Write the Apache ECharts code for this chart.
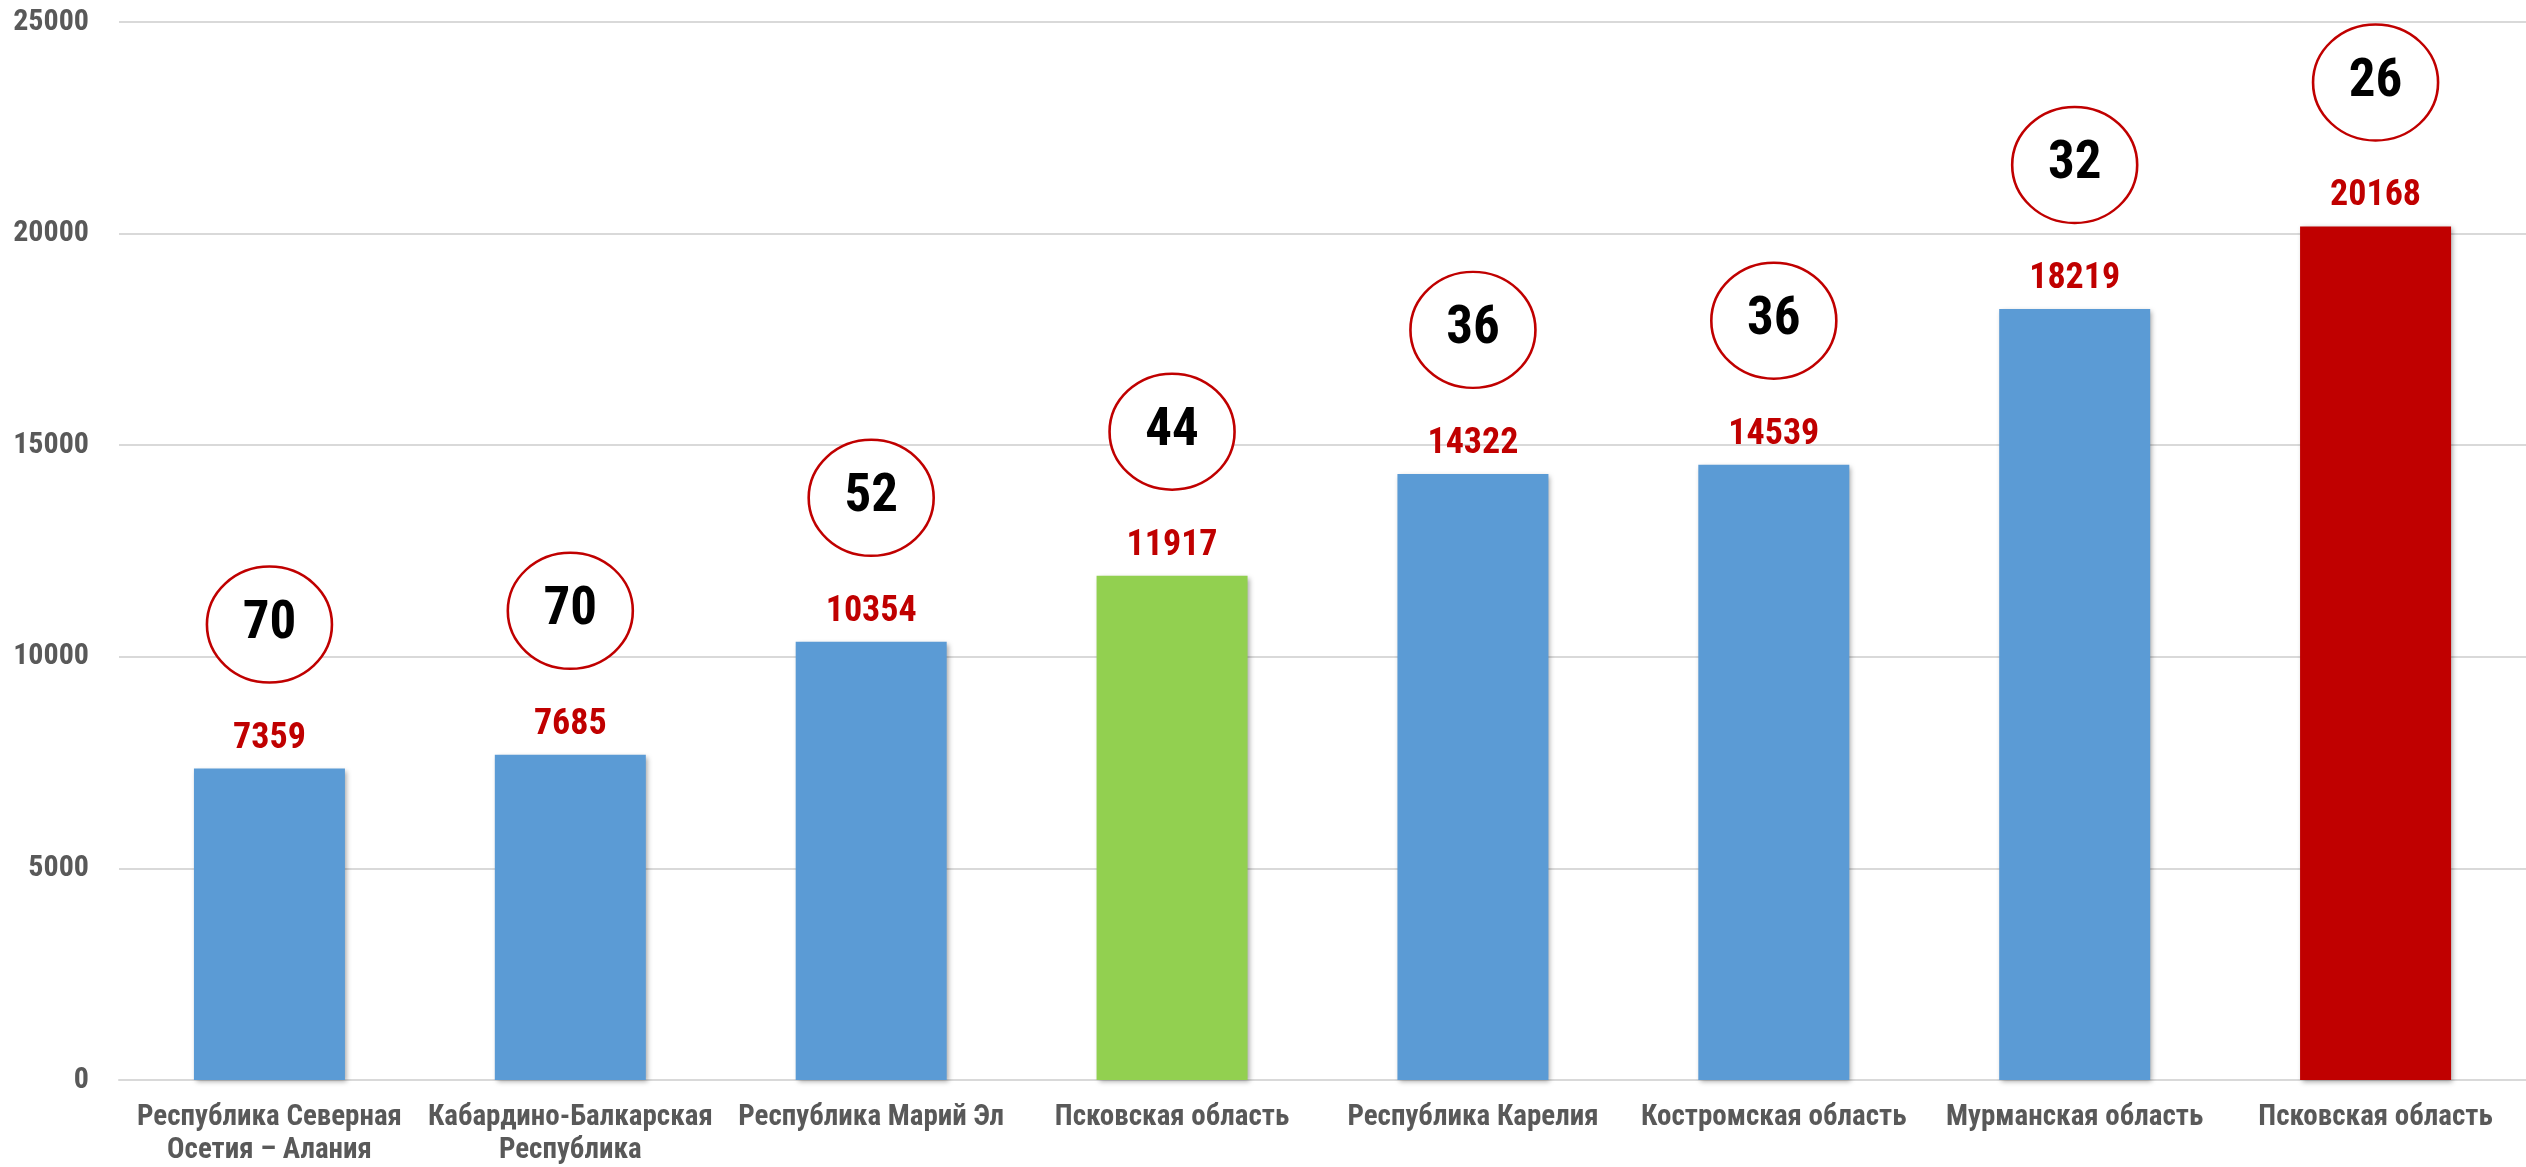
<!DOCTYPE html>
<html>
<head>
<meta charset="utf-8">
<script src="https://cdn.jsdelivr.net/npm/echarts@6/dist/echarts.min.js"></script>
<style>
html,body{margin:0;padding:0;background:#fff;}
#chart{width:2526px;height:1167px;}
</style>
</head>
<body>
<div id="chart"></div>
<script>
var categories = [
  'Республика Северная\nОсетия – Алания',
  'Кабардино-Балкарская\nРеспублика',
  'Республика Марий Эл',
  'Псковская область',
  'Республика Карелия',
  'Костромская область',
  'Мурманская область',
  'Псковская область'
];
var values = [7359, 7685, 10354, 11917, 14322, 14539, 18219, 20168];
var ranks = [70, 70, 52, 44, 36, 36, 32, 26];
var yTicks = [0, 5000, 10000, 15000, 20000, 25000];

var FONT = "'Roboto Condensed', 'Liberation Sans Narrow', 'Arial Narrow', sans-serif";
var chart = echarts.init(document.getElementById('chart'));
chart.setOption({
  animation: false,
  backgroundColor: '#ffffff',
  grid: {left: 119, right: 0, top: 22, bottom: 84, containLabel: false},
  xAxis: {
    type: 'category',
    data: categories,
    axisLine: {show: true, lineStyle: {color: '#D9D9D9', width: 2}},
    axisTick: {show: false},
    axisLabel: {
      interval: 0,
      color: '#595959',
      fontFamily: FONT,
      fontWeight: 'bold',
      fontSize: 29,
      lineHeight: 33,
      margin: 21
    }
  },
  yAxis: {
    type: 'value',
    min: yTicks[0],
    max: yTicks[yTicks.length - 1],
    interval: yTicks[1] - yTicks[0],
    axisLine: {show: false},
    axisTick: {show: false},
    splitLine: {lineStyle: {color: '#D9D9D9', width: 2}},
    axisLabel: {
      color: '#595959',
      fontFamily: FONT,
      fontWeight: 'bold',
      fontSize: 30,
      margin: 30,
      formatter: function (v) { return String(v); }
    }
  },
  series: [
    {
      type: 'bar',
      data: values,
      barWidth: 151,
      itemStyle: {
        color: function (p) {
          if (p.dataIndex === 3) return '#92D050';
          if (p.dataIndex === 7) return '#C00000';
          return '#5B9BD5';
        },
        shadowColor: 'rgba(0,0,0,0.35)',
        shadowBlur: 5,
        shadowOffsetX: 2,
        shadowOffsetY: 2
      },
      label: {
        show: true,
        position: 'top',
        distance: 12,
        color: '#C00000',
        fontFamily: FONT,
        fontWeight: 'bold',
        fontSize: 36
      },
      z: 2
    },
    {
      type: 'scatter',
      data: values,
      symbol: 'circle',
      symbolSize: [125, 116],
      symbolOffset: [0, -144],
      itemStyle: {color: '#ffffff', borderColor: '#C00000', borderWidth: 2.5, opacity: 1},
      label: {
        show: true,
        position: 'inside',
        color: '#000000',
        fontFamily: FONT,
        fontWeight: 'bold',
        fontSize: 53,
        formatter: function (p) { return String(ranks[p.dataIndex]); }
      },
      z: 5
    }
  ]
});
</script>
</body>
</html>
